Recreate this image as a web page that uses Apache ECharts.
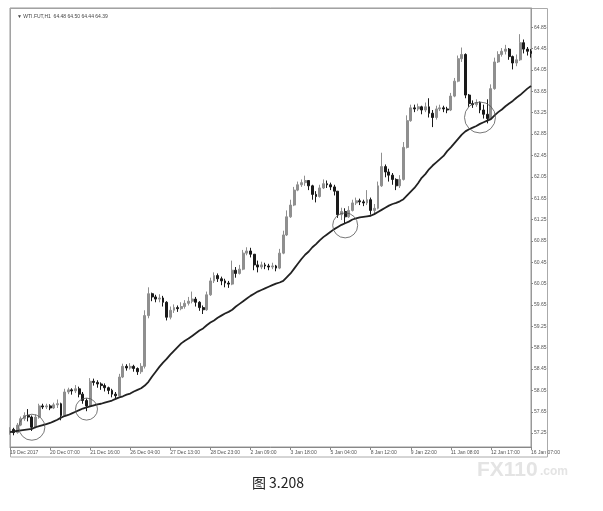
<!DOCTYPE html>
<html>
<head>
<meta charset="utf-8">
<script src="https://cdn.jsdelivr.net/npm/echarts@6/dist/echarts.min.js"></script>
<style>
html,body{margin:0;padding:0;background:#fff;}
#c{width:603px;height:511px;}
</style>
</head>
<body>
<div id="c"></div>
<script>
// x-axis tick labels (one every 11 bars)
const xTickLabels = ['19 Dec 2017','20 Dec 07:00','21 Dec 16:00','26 Dec 04:00','27 Dec 13:00','28 Dec 23:00','2 Jan 09:00','3 Jan 18:00','5 Jan 04:00','8 Jan 12:00','9 Jan 22:00','11 Jan 08:00','12 Jan 17:00','16 Jan 07:00'];
// y-axis tick labels
const yTickLabels = [57.25,57.65,58.05,58.45,58.85,59.25,59.65,60.05,60.45,60.85,61.25,61.65,62.05,62.45,62.85,63.25,63.65,64.05,64.45,64.85];

const opens = [57.28,57.32,57.26,57.40,57.52,57.58,57.55,57.36,57.55,57.76,
57.74,57.76,57.72,57.78,57.80,57.58,58.02,58.06,58.04,58.08,
57.98,57.86,57.76,58.22,58.20,58.17,58.14,58.10,58.05,57.98,
57.95,58.30,58.50,58.47,58.50,58.46,58.40,58.50,59.45,59.86,
59.80,59.76,59.78,59.70,59.42,59.55,59.60,59.58,59.62,59.68,
59.72,59.76,59.70,59.60,59.56,59.84,60.10,60.20,60.14,60.10,
60.06,60.04,60.30,60.24,60.32,60.62,60.66,60.60,60.40,60.36,
60.40,60.38,60.36,60.38,60.34,60.62,60.96,61.30,61.52,61.80,
61.90,61.94,61.98,61.88,61.72,61.68,61.84,61.92,61.90,61.86,
61.78,61.34,61.40,61.30,61.42,61.56,61.60,61.58,61.56,61.62,
61.42,61.46,61.88,62.24,62.14,62.08,62.00,61.88,62.00,62.60,
63.10,63.34,63.32,63.36,63.30,63.36,63.24,63.16,63.32,63.34,
63.32,63.30,63.56,63.84,64.26,64.34,63.58,63.42,63.40,63.44,
63.30,63.22,63.14,63.70,64.20,64.34,64.40,64.44,64.30,64.18,
64.24,64.56,64.44,64.40];

const closes = [57.32,57.26,57.40,57.52,57.58,57.55,57.36,57.55,57.76,57.74,
57.76,57.72,57.78,57.80,57.58,58.02,58.06,58.04,58.08,57.98,
57.86,57.76,58.22,58.20,58.17,58.14,58.10,58.05,57.98,57.95,
58.30,58.50,58.47,58.50,58.46,58.40,58.50,59.45,59.86,59.80,
59.76,59.78,59.70,59.42,59.55,59.60,59.58,59.62,59.68,59.72,
59.76,59.70,59.60,59.56,59.84,60.10,60.20,60.14,60.10,60.06,
60.04,60.30,60.24,60.32,60.62,60.66,60.60,60.40,60.36,60.40,
60.38,60.36,60.38,60.34,60.62,60.96,61.30,61.52,61.80,61.90,
61.94,61.98,61.88,61.72,61.68,61.84,61.92,61.90,61.86,61.78,
61.34,61.40,61.30,61.42,61.56,61.60,61.58,61.56,61.62,61.42,
61.46,61.88,62.24,62.14,62.08,62.00,61.88,62.00,62.60,63.10,
63.34,63.32,63.36,63.30,63.36,63.24,63.16,63.32,63.34,63.32,
63.30,63.56,63.84,64.26,64.34,63.58,63.42,63.40,63.44,63.30,
63.22,63.14,63.70,64.20,64.34,64.40,64.44,64.30,64.18,64.24,
64.56,64.44,64.40,64.36];

const lows = [57.22,57.21,57.24,57.38,57.48,57.47,57.29,57.34,57.52,57.70,
57.70,57.68,57.70,57.72,57.49,57.56,57.98,57.97,58.00,57.92,
57.80,57.66,57.74,58.14,58.10,58.06,58.03,57.98,57.92,57.90,
57.94,58.28,58.42,58.44,58.40,58.34,58.36,58.46,59.40,59.72,
59.70,59.70,59.62,59.36,59.38,59.50,59.52,59.55,59.58,59.64,
59.68,59.62,59.54,59.48,59.54,59.82,60.06,60.08,60.02,59.98,
59.97,60.02,60.16,60.22,60.30,60.58,60.54,60.30,60.26,60.32,
60.32,60.30,60.32,60.28,60.32,60.60,60.94,61.28,61.50,61.78,
61.86,61.88,61.80,61.62,61.57,61.66,61.82,61.84,61.80,61.70,
61.28,61.24,61.18,61.28,61.40,61.52,61.52,61.50,61.52,61.34,
61.36,61.44,61.86,62.04,61.96,61.90,61.80,61.84,61.98,62.58,
63.08,63.26,63.28,63.22,63.26,63.16,62.98,63.12,63.28,63.26,
63.24,63.28,63.54,63.82,64.20,63.52,63.36,63.34,63.36,63.24,
63.14,63.05,63.12,63.68,64.18,64.30,64.34,64.24,64.06,64.12,
64.22,64.36,64.32,64.28];

const highs = [57.36,57.35,57.44,57.56,57.64,57.70,57.58,57.60,57.80,57.80,
57.80,57.79,57.82,57.88,57.82,58.08,58.10,58.09,58.15,58.12,
58.02,57.90,58.28,58.27,58.24,58.20,58.18,58.12,58.08,58.02,
58.36,58.55,58.54,58.56,58.53,58.48,58.56,59.55,59.98,59.88,
59.84,59.85,59.82,59.72,59.62,59.66,59.64,59.70,59.74,59.80,
59.90,59.80,59.72,59.64,59.90,60.16,60.26,60.24,60.18,60.14,
60.10,60.48,60.36,60.40,60.68,60.73,60.72,60.60,60.48,60.46,
60.44,60.42,60.44,60.40,60.70,61.04,61.42,61.62,61.86,61.96,
62.00,62.07,61.98,61.90,61.78,61.90,62.00,61.98,61.94,61.90,
61.78,61.47,61.46,61.50,61.62,61.66,61.64,61.62,61.80,61.66,
61.54,61.96,62.50,62.28,62.20,62.12,62.02,62.08,62.70,63.20,
63.40,63.40,63.42,63.38,63.44,63.52,63.30,63.38,63.40,63.38,
63.36,63.62,63.90,64.32,64.47,64.36,63.60,63.48,63.50,63.46,
63.40,63.50,63.78,64.28,64.40,64.46,64.52,64.46,64.32,64.34,
64.72,64.62,64.48,64.44];

// moving average line
const maValues = [57.27,57.28,57.29,57.30,57.31,57.32,57.33,57.36,57.38,57.40,
57.42,57.44,57.47,57.50,57.54,57.57,57.59,57.62,57.65,57.68,
57.71,57.73,57.75,57.77,57.79,57.80,57.82,57.84,57.86,57.89,
57.92,57.94,57.97,57.99,58.03,58.06,58.09,58.14,58.21,58.31,
58.40,58.49,58.57,58.64,58.72,58.79,58.86,58.93,58.98,59.02,
59.07,59.12,59.17,59.21,59.27,59.32,59.36,59.41,59.45,59.49,
59.52,59.56,59.62,59.67,59.72,59.77,59.82,59.86,59.90,59.93,
59.96,59.99,60.02,60.05,60.07,60.10,60.17,60.24,60.33,60.42,
60.51,60.59,60.65,60.73,60.79,60.86,60.92,60.97,61.02,61.07,
61.11,61.15,61.18,61.21,61.25,61.27,61.29,61.30,61.31,61.32,
61.35,61.39,61.43,61.47,61.51,61.54,61.56,61.59,61.63,61.70,
61.77,61.84,61.93,62.03,62.10,62.19,62.26,62.32,62.38,62.44,
62.53,62.60,62.68,62.76,62.84,62.90,62.94,62.97,63.00,63.04,
63.07,63.10,63.13,63.20,63.26,63.31,63.37,63.42,63.47,63.53,
63.58,63.64,63.70,63.75];

// circled touch points (bar index, price)
const circleIdx = [6, 21, 91.5, 129];
const circleVal = [57.36, 57.70, 61.14, 63.16];

const headerText = 'WTI.FUT,H1  64.48 64.50 64.44 64.39';
const caption = '图 3.208';

const categories = closes.map((_, i) => String(i));
const ohlc = closes.map((c, i) => [opens[i], c, lows[i], highs[i]]);
const circleDiam = [26, 22, 25, 31];

const chart = echarts.init(document.getElementById('c'), null, {renderer: 'canvas'});
const smallFont = {fontFamily: 'Liberation Sans, Arial, sans-serif', fontSize: 5, color: '#555'};

chart.setOption({
  backgroundColor: '#fff',
  animation: false,
  grid: {left: 10, right: 72, top: 8, bottom: 64, show: true, borderColor: '#999', borderWidth: 1, containLabel: false},
  xAxis: {
    type: 'category',
    data: categories,
    boundaryGap: false,
    axisLine: {lineStyle: {color: '#888', width: 1}},
    axisTick: {show: true, interval: 10, length: 3, lineStyle: {color: '#888'}},
    axisLabel: Object.assign({
      interval: 10, margin: 3, align: 'left', showMaxLabel: true,
      formatter: (v, idx) => (idx % 11 === 0 ? xTickLabels[idx / 11] : '')
    }, smallFont),
    splitLine: {show: false}
  },
  yAxis: {
    type: 'value',
    position: 'right',
    min: 56.99,
    max: 65.21,
    scale: true,
    axisLine: {show: true, lineStyle: {color: '#999', width: 1}},
    axisTick: {show: true, length: 2, customValues: yTickLabels, lineStyle: {color: '#888'}},
    axisLabel: Object.assign({margin: 3, customValues: yTickLabels, formatter: v => v.toFixed(2)}, smallFont),
    splitLine: {show: false}
  },
  title: [{
    text: '▼ ' + headerText,
    left: 12, top: 9,
    textStyle: {fontFamily: 'Liberation Sans, Arial, sans-serif', fontSize: 5, fontWeight: 'normal', color: '#444'}
  }],
  graphic: [
    {type: 'rect', shape: {x: 10.5, y: 8.5, width: 537, height: 448.5}, style: {fill: 'none', stroke: '#aaa', lineWidth: 1}, silent: true, z: -1},
    {type: 'text', x: 278, y: 483, style: {text: caption, font: '14px "Noto Sans CJK SC", sans-serif', fill: '#222', textAlign: 'center', textVerticalAlign: 'middle'}},
    {type: 'text', x: 477, y: 470, style: {text: 'FX110', font: 'bold 21px "Liberation Sans", Arial, sans-serif', fill: '#e4e4e4', textAlign: 'left', textVerticalAlign: 'middle'}},
    {type: 'text', x: 540, y: 472, style: {text: '.com', font: 'bold 12px "Liberation Sans", Arial, sans-serif', fill: '#e4e4e4', textAlign: 'left', textVerticalAlign: 'middle'}}
  ],
  series: [
    {
      type: 'candlestick',
      data: ohlc,
      barWidth: 2.4,
      itemStyle: {color: '#8f8f8f', color0: '#1a1a1a', borderColor: '#8f8f8f', borderColor0: '#1a1a1a', borderWidth: 1}
    },
    {
      type: 'line',
      data: maValues,
      symbol: 'none',
      smooth: false,
      lineStyle: {color: '#222', width: 1.8},
      markPoint: {
        symbol: 'circle',
        label: {show: false},
        itemStyle: {color: 'rgba(0,0,0,0)', borderColor: '#555', borderWidth: 0.8},
        data: circleIdx.map((ix, k) => ({coord: [ix, circleVal[k]], symbolSize: circleDiam[k]}))
      }
    }
  ]
});
</script>
</body>
</html>
